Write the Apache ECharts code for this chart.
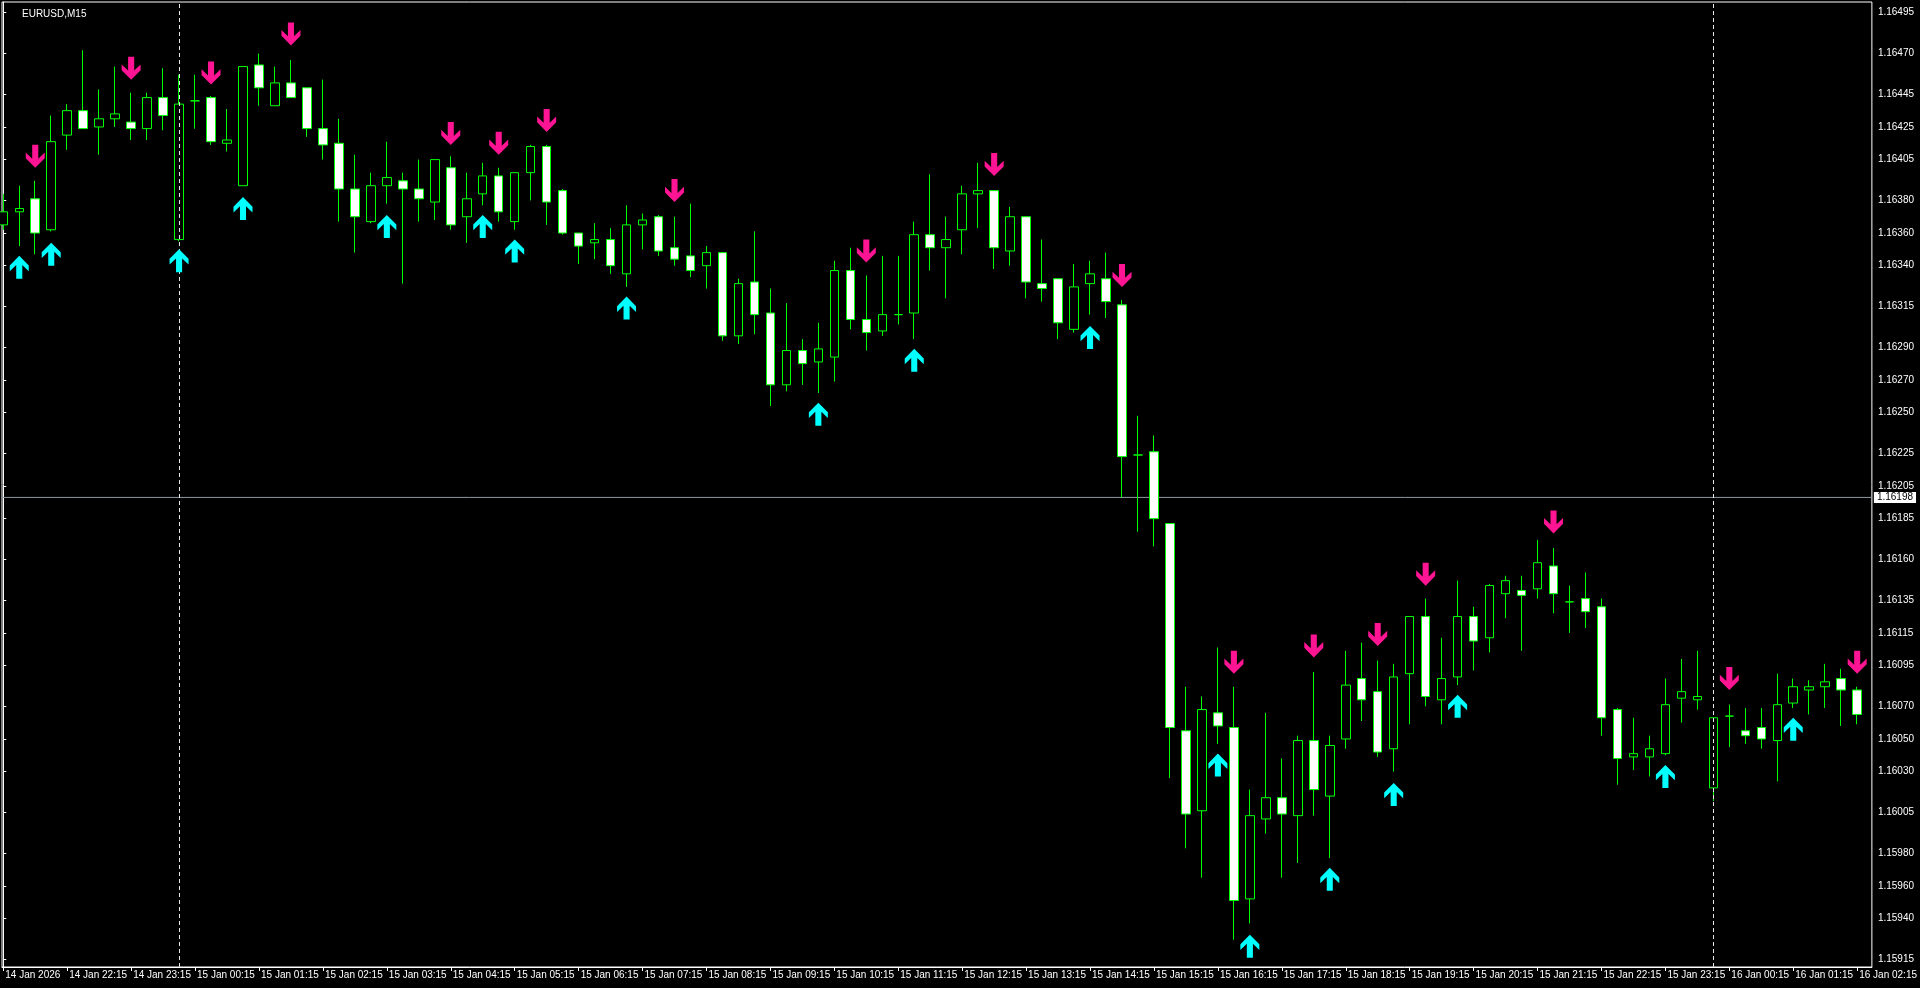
<!DOCTYPE html>
<html>
<head>
<meta charset="utf-8">
<title>EURUSD,M15</title>
<script src="https://cdn.jsdelivr.net/npm/echarts@6/dist/echarts.min.js"></script>
<style>
  html, body { margin: 0; padding: 0; background: #000; }
  #chart { width: 1920px; height: 988px; }
</style>
</head>
<body>
<div id="chart"></div>
<script>
// ---------------- data ----------------
const symbolTitle = 'EURUSD,M15';

// hour tick labels (one every 4 bars, first bar = 14 Jan 21:15)
const timeLabels = [
  '14 Jan 2026', '14 Jan 22:15', '14 Jan 23:15', '15 Jan 00:15', '15 Jan 01:15',
  '15 Jan 02:15', '15 Jan 03:15', '15 Jan 04:15', '15 Jan 05:15', '15 Jan 06:15',
  '15 Jan 07:15', '15 Jan 08:15', '15 Jan 09:15', '15 Jan 10:15', '15 Jan 11:15',
  '15 Jan 12:15', '15 Jan 13:15', '15 Jan 14:15', '15 Jan 15:15', '15 Jan 16:15',
  '15 Jan 17:15', '15 Jan 18:15', '15 Jan 19:15', '15 Jan 20:15', '15 Jan 21:15',
  '15 Jan 22:15', '15 Jan 23:15', '16 Jan 00:15', '16 Jan 01:15', '16 Jan 02:15'
];

const priceTicks = [
  1.16495, 1.16470, 1.16445, 1.16425, 1.16405, 1.16380, 1.16360, 1.16340, 1.16315,
  1.16290, 1.16270, 1.16250, 1.16225, 1.16205, 1.16185, 1.16160, 1.16135, 1.16115,
  1.16095, 1.16070, 1.16050, 1.16030, 1.16005, 1.15980, 1.15960, 1.15940, 1.15915
];

const openP = [
  1.16365,1.16373,1.16381,1.16362,1.16420,1.16435,1.16425,1.16430,1.16428,1.16424,
  1.16443,1.16356,1.16441,1.16443,1.16415,1.16389,1.16463,1.16438,1.16452,1.16449,
  1.16424,1.16415,1.16387,1.16367,1.16389,1.16392,1.16387,1.16379,1.16400,1.16370,
  1.16384,1.16395,1.16367,1.16397,1.16413,1.16386,1.16360,1.16354,1.16356,1.16335,
  1.16365,1.16370,1.16351,1.16346,1.16340,1.16348,1.16297,1.16330,1.16311,1.16267,
  1.16288,1.16281,1.16284,1.16337,1.16307,1.16300,1.16310,1.16311,1.16359,1.16351,
  1.16362,1.16384,1.16386,1.16349,1.16370,1.16329,1.16332,1.16301,1.16329,1.16332,
  1.16316,1.16224,1.16226,1.16182,1.16055,1.16006,1.16066,1.16057,1.15952,1.16001,
  1.16014,1.16003,1.16049,1.16015,1.16050,1.16087,1.16079,1.16044,1.16090,1.16125,
  1.16074,1.16088,1.16125,1.16112,1.16139,1.16141,1.16142,1.16156,1.16134,1.16136,
  1.16131,1.16068,1.16039,1.16039,1.16041,1.16075,1.16074,1.16020,1.16064,1.16055,
  1.16057,1.16049,1.16072,1.16080,1.16082,1.16087,1.16080
];
const highP = [
  1.16384,1.16389,1.16392,1.16432,1.16439,1.16472,1.16448,1.16462,1.16446,1.16446,
  1.16461,1.16457,1.16457,1.16444,1.16436,1.16462,1.16470,1.16462,1.16466,1.16449,
  1.16454,1.16430,1.16408,1.16397,1.16416,1.16397,1.16405,1.16405,1.16407,1.16397,
  1.16403,1.16400,1.16397,1.16414,1.16414,1.16387,1.16360,1.16366,1.16363,1.16377,
  1.16372,1.16371,1.16370,1.16378,1.16352,1.16348,1.16332,1.16361,1.16326,1.16317,
  1.16295,1.16305,1.16343,1.16351,1.16334,1.16346,1.16346,1.16367,1.16396,1.16370,
  1.16389,1.16403,1.16386,1.16376,1.16370,1.16356,1.16332,1.16341,1.16343,1.16348,
  1.16319,1.16248,1.16236,1.16182,1.16082,1.16076,1.16106,1.16082,1.16019,1.16066,
  1.16038,1.16052,1.16091,1.16052,1.16104,1.16109,1.16098,1.16096,1.16125,1.16136,
  1.16112,1.16147,1.16131,1.16145,1.16150,1.16150,1.16172,1.16167,1.16144,1.16152,
  1.16136,1.16069,1.16063,1.16052,1.16087,1.16099,1.16104,1.16063,1.16071,1.16069,
  1.16069,1.16090,1.16087,1.16086,1.16096,1.16093,1.16082
];
const lowP = [
  1.16362,1.16352,1.16347,1.16361,1.16411,1.16424,1.16408,1.16425,1.16417,1.16417,
  1.16423,1.16355,1.16424,1.16414,1.16410,1.16389,1.16438,1.16438,1.16443,1.16419,
  1.16405,1.16367,1.16348,1.16366,1.16378,1.16329,1.16367,1.16368,1.16362,1.16354,
  1.16377,1.16367,1.16362,1.16380,1.16365,1.16359,1.16341,1.16344,1.16335,1.16327,
  1.16350,1.16346,1.16340,1.16333,1.16326,1.16294,1.16292,1.16298,1.16254,1.16263,
  1.16267,1.16262,1.16269,1.16301,1.16288,1.16297,1.16304,1.16295,1.16337,1.16320,
  1.16347,1.16363,1.16338,1.16340,1.16320,1.16318,1.16295,1.16299,1.16310,1.16308,
  1.16198,1.16177,1.16168,1.16026,1.15983,1.15965,1.16047,1.15927,1.15937,1.15992,
  1.15965,1.15974,1.16003,1.15977,1.16044,1.16061,1.16039,1.16030,1.16059,1.16070,
  1.16059,1.16083,1.16092,1.16103,1.16124,1.16104,1.16136,1.16127,1.16115,1.16118,
  1.16052,1.16022,1.16031,1.16027,1.16040,1.16060,1.16068,1.16012,1.16045,1.16047,
  1.16044,1.16024,1.16069,1.16065,1.16069,1.16058,1.16059
];
const closeP = [
  1.16373,1.16375,1.16360,1.16416,1.16435,1.16424,1.16430,1.16433,1.16424,1.16443,
  1.16432,1.16439,1.16441,1.16416,1.16417,1.16462,1.16449,1.16452,1.16443,1.16424,
  1.16414,1.16387,1.16370,1.16389,1.16394,1.16387,1.16381,1.16405,1.16365,1.16381,
  1.16395,1.16373,1.16397,1.16413,1.16379,1.16360,1.16352,1.16356,1.16340,1.16365,
  1.16368,1.16349,1.16344,1.16337,1.16348,1.16297,1.16329,1.16310,1.16267,1.16288,
  1.16280,1.16289,1.16337,1.16307,1.16299,1.16310,1.16310,1.16359,1.16351,1.16356,
  1.16384,1.16386,1.16351,1.16370,1.16330,1.16326,1.16305,1.16327,1.16335,1.16318,
  1.16223,1.16224,1.16185,1.16057,1.16004,1.16068,1.16058,1.15951,1.16003,1.16014,
  1.16004,1.16049,1.16019,1.16046,1.16083,1.16074,1.16042,1.16088,1.16125,1.16076,
  1.16087,1.16125,1.16110,1.16144,1.16147,1.16138,1.16158,1.16139,1.16134,1.16128,
  1.16063,1.16038,1.16041,1.16044,1.16071,1.16079,1.16076,1.16063,1.16064,1.16052,
  1.16050,1.16071,1.16082,1.16082,1.16085,1.16080,1.16065
];

// signal arrows (bar index, price)
const upArrowBars = [1, 3, 11, 15, 24, 30, 32, 39, 51, 57, 68, 76, 78, 83, 87, 91, 104, 112];
const upArrowPrices = [
  1.16339, 1.16347, 1.16343, 1.16375, 1.16364, 1.16364, 1.16349, 1.16314, 1.16249,
  1.16282, 1.16296, 1.16034, 1.15923, 1.15964, 1.16016, 1.16070, 1.16027, 1.16056
];
const downArrowBars = [2, 8, 13, 18, 28, 31, 34, 42, 54, 62, 70, 77, 82, 86, 89, 97, 108, 116];
const downArrowPrices = [
  1.16407, 1.16461, 1.16458, 1.16482, 1.16421, 1.16415, 1.16429, 1.16386, 1.16349,
  1.16402, 1.16334, 1.16097, 1.16107, 1.16114, 1.16151, 1.16183, 1.16087, 1.16097
];

// day separators (bars at 00:00) and horizontal line
const separatorBars = [11, 107];
const hLinePrice = 1.16198;

// ---------------- chart ----------------
const FONT = '"Liberation Sans", Arial, sans-serif';
const BARS_PER_LABEL = 4;
const tickBars = timeLabels.map((_, k) => k * BARS_PER_LABEL);

// visible window of the MT4 chart (bar units / price units)
const X_MIN = -0.08, X_MAX = 116.92;
const Y_MIN = 1.1591027, Y_MAX = 1.1650157;

const candleData = openP.map((o, i) => [i, o, closeP[i], lowP[i], highP[i]]);
const upData = upArrowBars.map((b, i) => [b, upArrowPrices[i]]);
const downData = downArrowBars.map((b, i) => [b, downArrowPrices[i]]);

const UP_PATH = 'path://M10,0 L20,10 L20,16 L13.2,9.5 L13.2,24 L6.8,24 L6.8,9.5 L0,16 L0,10 Z';
const DOWN_PATH = 'path://M10,24 L20,14 L20,8 L13.2,14.5 L13.2,0 L6.8,0 L6.8,14.5 L0,8 L0,14 Z';

const chart = echarts.init(document.getElementById('chart'));
chart.setOption({
  backgroundColor: '#000',
  animation: false,
  title: {
    text: symbolTitle, left: 17, top: 4,
    textStyle: { color: '#ffffff', fontSize: 10, fontWeight: 'normal', fontFamily: FONT }
  },
  grid: {
    left: 2, right: 46, top: 2, bottom: 21,
    show: true, borderColor: '#ffffff', borderWidth: 1, backgroundColor: '#000'
  },
  xAxis: {
    type: 'value', min: X_MIN, max: X_MAX,
    splitLine: { show: false },
    axisLine: { show: true, onZero: false, lineStyle: { color: '#ffffff', width: 1 } },
    axisTick: { show: true, customValues: tickBars, length: 4, lineStyle: { color: '#ffffff' } },
    axisLabel: {
      customValues: tickBars,
      formatter: v => timeLabels[Math.round(v / BARS_PER_LABEL)] || '',
      color: '#ffffff', fontSize: 10, fontFamily: FONT,
      align: 'left', margin: 3, padding: [0, 0, 0, 2]
    }
  },
  yAxis: {
    type: 'value', position: 'right', min: Y_MIN, max: Y_MAX,
    splitLine: { show: false },
    axisLine: { show: true, lineStyle: { color: '#ffffff', width: 1 } },
    axisTick: { show: true, customValues: priceTicks, length: 3, lineStyle: { color: '#ffffff' } },
    axisLabel: {
      customValues: priceTicks,
      formatter: v => v.toFixed(5),
      color: '#ffffff', fontSize: 10, fontFamily: FONT, margin: 6
    }
  },
  series: [
    {
      name: 'hline', type: 'line', z: 1, silent: true, clip: false,
      data: [[X_MIN, hLinePrice], [X_MAX, hLinePrice]],
      symbol: 'none',
      lineStyle: { color: '#8f99a3', type: 'solid', width: 1 },
      endLabel: {
        show: true, distance: 2,
        formatter: () => hLinePrice.toFixed(5),
        backgroundColor: '#ffffff', color: '#000000',
        fontSize: 10, fontFamily: FONT, padding: [1, 3, 0, 3]
      }
    },
    {
      name: symbolTitle, type: 'candlestick', z: 2, silent: true,
      barWidth: 9,
      data: candleData,
      itemStyle: {
        color: '#000000', color0: '#ffffff',
        borderColor: '#00ff00', borderColor0: '#00ff00', borderColorDoji: '#00ff00',
        borderWidth: 1
      }
    },
    {
      name: 'separators', type: 'scatter', data: [], z: 3, silent: true,
      markLine: {
        silent: true, animation: false, symbol: ['none', 'none'],
        label: { show: false },
        lineStyle: { color: '#e6e6e6', type: [4, 3], width: 1 },
        data: separatorBars.map(b => ({ xAxis: b }))
      }
    },
    {
      name: 'buy', type: 'scatter', z: 5, silent: true,
      data: upData, symbol: UP_PATH, symbolSize: [19, 23],
      itemStyle: { color: '#00ffff', opacity: 1 }
    },
    {
      name: 'sell', type: 'scatter', z: 5, silent: true,
      data: downData, symbol: DOWN_PATH, symbolSize: [19, 23],
      itemStyle: { color: '#ff1493', opacity: 1 }
    }
  ]
});
</script>
</body>
</html>
